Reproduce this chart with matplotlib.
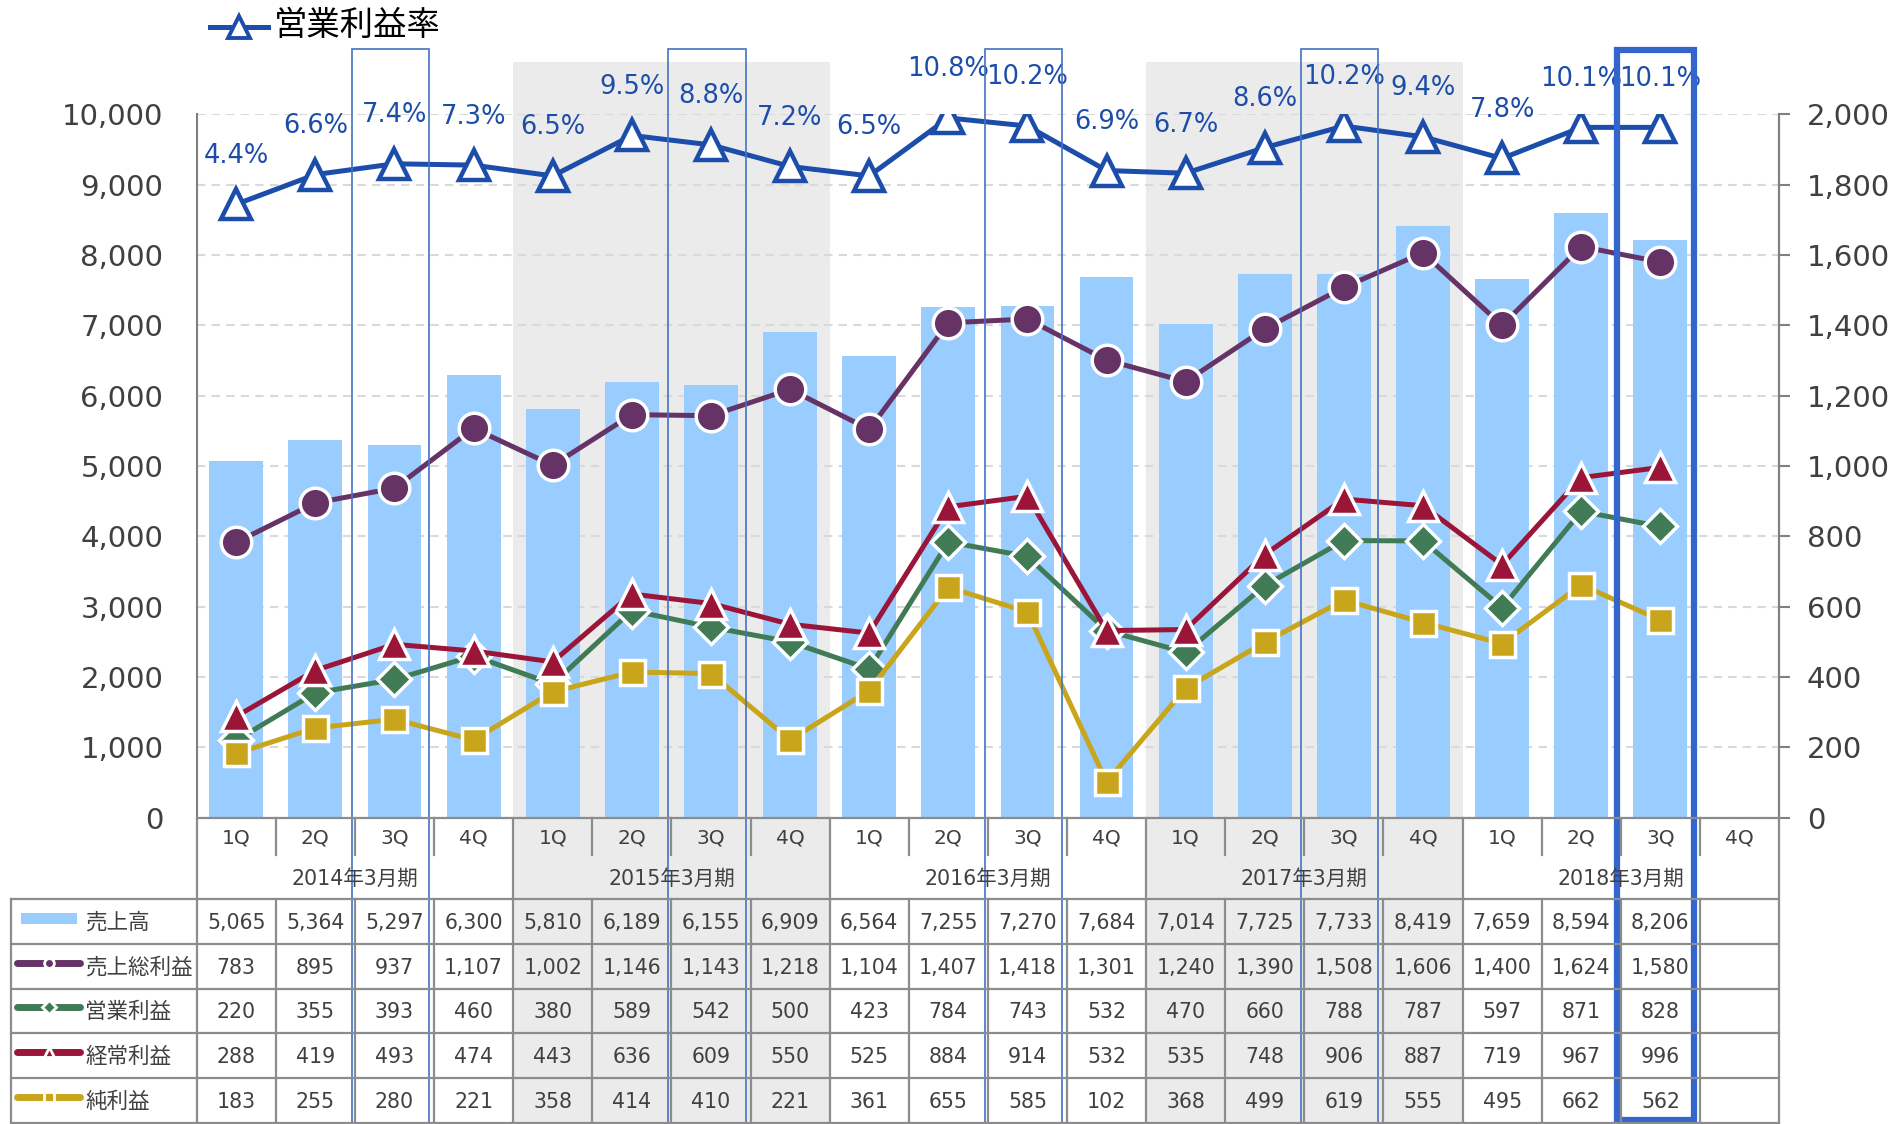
import matplotlib
matplotlib.use("Agg")
import matplotlib.pyplot as plt
from matplotlib.patches import Rectangle
from matplotlib.lines import Line2D

plt.rcParams['font.family'] = ['DejaVu Sans', 'Noto Sans CJK JP']

# ---------------- data ----------------
quarters = ["1Q", "2Q", "3Q", "4Q"] * 5
years = ["2014年3月期", "2015年3月期", "2016年3月期", "2017年3月期", "2018年3月期"]
sales = [5065, 5364, 5297, 6300, 5810, 6189, 6155, 6909, 6564, 7255, 7270, 7684,
         7014, 7725, 7733, 8419, 7659, 8594, 8206]
gross = [783, 895, 937, 1107, 1002, 1146, 1143, 1218, 1104, 1407, 1418, 1301,
         1240, 1390, 1508, 1606, 1400, 1624, 1580]
operating = [220, 355, 393, 460, 380, 589, 542, 500, 423, 784, 743, 532,
             470, 660, 788, 787, 597, 871, 828]
ordinary = [288, 419, 493, 474, 443, 636, 609, 550, 525, 884, 914, 532,
            535, 748, 906, 887, 719, 967, 996]
net = [183, 255, 280, 221, 358, 414, 410, 221, 361, 655, 585, 102,
       368, 499, 619, 555, 495, 662, 562]
margin = [4.4, 6.6, 7.4, 7.3, 6.5, 9.5, 8.8, 7.2, 6.5, 10.8, 10.2, 6.9,
          6.7, 8.6, 10.2, 9.4, 7.8, 10.1, 10.1]
row_names = ["売上高", "売上総利益", "営業利益", "経常利益", "純利益"]
margin_name = "営業利益率"

# ---------------- styles ----------------
C_BAR = "#99CCFF"
C_GROSS = "#663366"
C_OP = "#417B55"
C_ORD = "#9B1538"
C_NET = "#C9A51B"
C_MARGIN = "#1C4DAA"
C_GRAY = "#EBEBEB"
C_GRID = "#8C8C8C"
C_TXT = "#404040"

W_PX, H_PX = 1904, 1124
L, R, TOP, BOT = 196.7, 1779.0, 114.3, 817.7
NS = 20
SW = (R - L) / NS

fig = plt.figure(figsize=(W_PX / 100, H_PX / 100), dpi=100)

# background overlay (pixel coords)
bg = fig.add_axes([0, 0, 1, 1])
bg.set_xlim(0, W_PX); bg.set_ylim(H_PX, 0); bg.axis('off'); bg.set_zorder(0)

def sx(k):
    return L + k * SW

for g in (1, 3):
    bg.add_patch(Rectangle((sx(4 * g), 62), 4 * SW, 1123 - 62, color=C_GRAY, lw=0))

# main axes
ax = fig.add_axes([L / W_PX, 1 - BOT / H_PX, (R - L) / W_PX, (BOT - TOP) / H_PX])
ax.set_zorder(1); ax.patch.set_visible(False)
x = list(range(len(sales)))
ax.set_xlim(-0.5, NS - 0.5)
ax.set_ylim(0, 10000)
ax.set_axisbelow(True)
ax.grid(axis='y', ls=(0, (4, 3)), color='#D9D9D9', lw=1.5)
ax.bar(x, sales, width=0.68, color=C_BAR, zorder=2)
ax.set_yticks(range(0, 10001, 1000))
ax.set_yticklabels([f"{v:,}" for v in range(0, 10001, 1000)])
ax.tick_params(axis='y', length=0, pad=24, labelsize=21, labelcolor=C_TXT)
ax.set_xticks([])
for s in ('top', 'bottom'):
    ax.spines[s].set_visible(False)
for s in ('left', 'right'):
    ax.spines[s].set_color('#808080'); ax.spines[s].set_linewidth(1.5)

ax2 = ax.twinx()
ax2.set_zorder(2); ax2.patch.set_visible(False)
ax2.set_ylim(0, 2000)
ax2.set_yticks(range(0, 2001, 200))
ax2.set_yticklabels([f"{v:,}" for v in range(0, 2001, 200)])
ax2.tick_params(axis='y', length=8, width=1.5, color='#808080', pad=12, labelsize=21, labelcolor=C_TXT)
for s in ('top', 'bottom', 'left'):
    ax2.spines[s].set_visible(False)
ax2.spines['right'].set_color('#808080'); ax2.spines['right'].set_linewidth(1.5)

lw = 3.6
ax2.plot(x, gross, color=C_GROSS, lw=lw, marker='o', ms=22, mfc=C_GROSS, mec='white', mew=2.5)
ax2.plot(x, operating, color=C_OP, lw=lw, marker='D', ms=17, mfc=C_OP, mec='white', mew=2.5)
ax2.plot(x, ordinary, color=C_ORD, lw=lw, marker='^', ms=21, mfc=C_ORD, mec='white', mew=2.5)
ax2.plot(x, net, color=C_NET, lw=lw, marker='s', ms=18, mfc=C_NET, mec='white', mew=2.5)

ax3 = ax.twinx()
ax3.set_zorder(3); ax3.patch.set_visible(False)
ax3.set_ylim(-41.1, 11.07)
ax3.axis('off')
ax3.plot(x, margin, color=C_MARGIN, lw=lw, marker='^', ms=22, mfc='white', mec=C_MARGIN, mew=3.2)
for i, v in enumerate(margin):
    ax3.annotate(f"{v}%", (i, v), xytext=(0, 35), textcoords='offset points',
                 ha='center', va='center', fontsize=18.5, color=C_MARGIN, annotation_clip=False)

# foreground overlay: table, boxes, legend
fg = fig.add_axes([0, 0, 1, 1])
fg.set_xlim(0, W_PX); fg.set_ylim(H_PX, 0); fg.axis('off'); fg.set_zorder(4)

def hline(y, x0, x1, **kw):
    fg.add_line(Line2D([x0, x1], [y, y], color=C_GRID, lw=1.6, **kw))

def vline(xx, y0, y1, **kw):
    fg.add_line(Line2D([xx, xx], [y0, y1], color=C_GRID, lw=1.6, **kw))

CAT_T, CAT_B, YEAR_B = 818, 855, 899
rows_y = [899, 944.3, 989, 1033.3, 1078.3, 1122.7]
TBL_L = 11

hline(CAT_T, L, R)
for y in rows_y:
    hline(y, TBL_L, R)
vline(TBL_L, rows_y[0], rows_y[-1])
for k in range(NS + 1):
    xx = sx(k)
    if k % 4 == 0:
        vline(xx, CAT_T, rows_y[-1])
    else:
        vline(xx, CAT_T, CAT_B)
        vline(xx, rows_y[0], rows_y[-1])

for i in range(NS):
    fg.text(sx(i + 0.5), 837.7, quarters[i], ha='center', va='center', fontsize=14.5, color=C_TXT)
for g, yname in enumerate(years):
    fg.text(sx(4 * g + 2), 879, yname, ha='center', va='center', fontsize=14.8, color=C_TXT)

series = [sales, gross, operating, ordinary, net]
for r, vals in enumerate(series):
    yc = (rows_y[r] + rows_y[r + 1]) / 2
    for i, v in enumerate(vals):
        fg.text(sx(i + 0.5), yc + 1, f"{v:,}", ha='center', va='center', fontsize=14.8, color=C_TXT)
    fg.text(85, yc + 1, row_names[r], ha='left', va='center', fontsize=15.5, color=C_TXT)

# row legend keys
yc0 = (rows_y[0] + rows_y[1]) / 2
fg.add_patch(Rectangle((21, yc0 - 9), 56, 11, color=C_BAR, lw=0))
for r, (c, m) in enumerate([(C_GROSS, 'o'), (C_OP, 'D'), (C_ORD, '^'), (C_NET, 's')], start=1):
    yc = (rows_y[r] + rows_y[r + 1]) / 2 - 4
    fg.add_line(Line2D([17, 80], [yc, yc], color=c, lw=5, solid_capstyle='round'))
    fg.add_line(Line2D([48.5], [yc], marker=m, ms=7, mfc=c, mec='white', mew=2, color=c))

# 3Q highlight boxes
for k in (2, 6, 10, 14):
    fg.add_patch(Rectangle((sx(k) - 3, 49), SW - 2, 1123 - 49, fill=False,
                           edgecolor='#4472C4', lw=1.2))
fg.add_patch(Rectangle((sx(18) - 4, 50), SW - 2, 1120 - 50, fill=False,
                       edgecolor='#3366CC', lw=4.5))

# top legend
fg.add_line(Line2D([210, 268], [26.7, 26.7], color=C_MARGIN, lw=lw))
fg.add_line(Line2D([239], [26.7], marker='^', ms=16, mfc='white', mec=C_MARGIN, mew=2.8))
fg.text(274, 25, margin_name, ha='left', va='center', fontsize=24, color='black')

fig.savefig("out.png", dpi=100)
